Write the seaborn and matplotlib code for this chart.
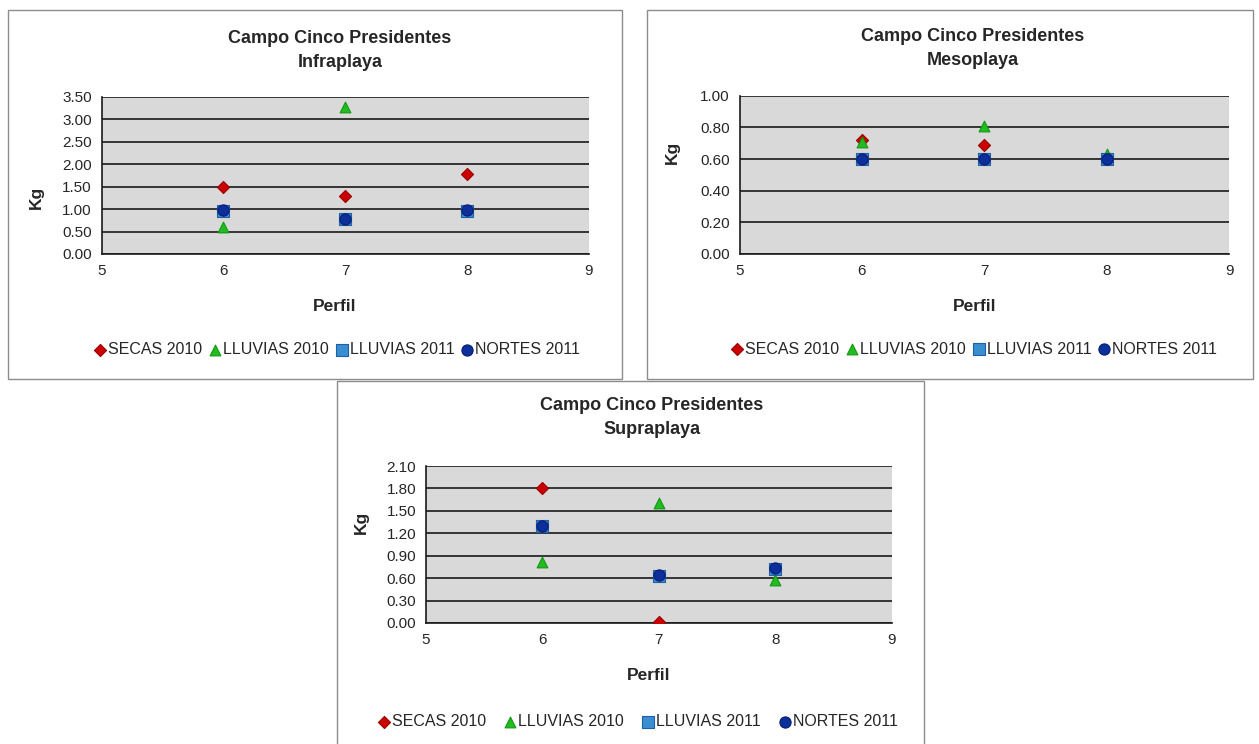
import numpy as np
import pandas as pd
import matplotlib
matplotlib.use('Agg')
import matplotlib.pyplot as plt
from matplotlib.patches import Rectangle
import seaborn as sns

# data (NaN = point hidden behind others)
perfil = [6, 7, 8]
series = ['SECAS 2010', 'LLUVIAS 2010', 'LLUVIAS 2011', 'NORTES 2011']

infra_secas = [1.48, 1.30, 1.78]
infra_lluvias10 = [0.60, 3.27, np.nan]
infra_lluvias11 = [0.96, 0.77, 0.95]
infra_nortes = [0.97, 0.78, 0.97]

meso_secas = [0.72, 0.69, np.nan]
meso_lluvias10 = [0.71, 0.81, 0.63]
meso_lluvias11 = [0.60, 0.60, 0.60]
meso_nortes = [0.60, 0.60, 0.60]

supra_secas = [1.80, 0.01, np.nan]
supra_lluvias10 = [0.81, 1.61, 0.58]
supra_lluvias11 = [1.30, 0.63, 0.72]
supra_nortes = [1.30, 0.64, 0.73]

W, H = 1259, 744
sns.set_style('white')
plt.rcParams['font.family'] = ['Liberation Sans', 'DejaVu Sans']
tick_font = ['Liberation Sans Narrow', 'Liberation Sans', 'DejaVu Sans']

palette = {'SECAS 2010': '#cc0000', 'LLUVIAS 2010': '#22bb22',
           'LLUVIAS 2011': '#3a8fd0', 'NORTES 2011': '#0c2f9c'}
markers = {'SECAS 2010': 'D', 'LLUVIAS 2010': '^',
           'LLUVIAS 2011': 's', 'NORTES 2011': 'o'}
sizes = {'SECAS 2010': 38, 'LLUVIAS 2010': 60,
         'LLUVIAS 2011': 75, 'NORTES 2011': 65}
edges = {'SECAS 2010': '#990000', 'LLUVIAS 2010': '#119911',
         'LLUVIAS 2011': '#1f5fa8', 'NORTES 2011': '#061d70'}


def frame(df_vals):
    rows = []
    for name, vals in zip(series, df_vals):
        for p, v in zip(perfil, vals):
            rows.append({'Perfil': p, 'Kg': v, 'Serie': name})
    return pd.DataFrame(rows)


fig = plt.figure(figsize=(W / 100, H / 100), dpi=100)


def px_axes(left, right, top, bottom):
    return fig.add_axes([left / W, 1 - bottom / H, (right - left) / W, (bottom - top) / H])


def box(left, right, top, bottom):
    fig.patches.append(Rectangle((left / W, 1 - bottom / H), (right - left) / W, (bottom - top) / H,
                                 transform=fig.transFigure, fill=False, edgecolor='#8c8c8c', lw=1))


def panel(ax, data, name, ymax, ystep, tcx, tcy, kgx, kgy, pfx, pfy, lgx, lgy, colsp):
    df = frame(data)
    for s in series:
        sub = df[df['Serie'] == s]
        sns.scatterplot(data=sub, x='Perfil', y='Kg', ax=ax, color=palette[s], marker=markers[s],
                        s=sizes[s], edgecolor=edges[s], linewidth=0.8, label=s, zorder=3)
    ax.set_facecolor('#d9d9d9')
    ax.set_xlim(5, 9)
    ax.set_ylim(0, ymax)
    ax.set_xticks([5, 6, 7, 8, 9])
    yt = np.arange(0, ymax + ystep / 2, ystep)
    ax.set_yticks(yt)
    ax.set_yticklabels([f'{v:.2f}' for v in yt], family=tick_font, fontsize=11)
    ax.set_xticklabels(['5', '6', '7', '8', '9'], family=tick_font, fontsize=11)
    ax.grid(axis='y', color='#1a1a1a', lw=1.2, zorder=1)
    ax.set_axisbelow(True)
    for sp in ['top', 'right']:
        ax.spines[sp].set_visible(False)
    for sp in ['left', 'bottom']:
        ax.spines[sp].set_color('#1a1a1a')
        ax.spines[sp].set_linewidth(1.2)
    ax.tick_params(axis='both', direction='out', length=4, width=1, color='#1a1a1a', pad=3)
    ax.set_xlabel('')
    ax.set_ylabel('')
    fig.text(tcx / W, 1 - tcy / H, 'Campo Cinco Presidentes\n' + name, ha='center', va='center',
             fontsize=13, fontweight='bold', linespacing=1.5)
    fig.text(kgx / W, 1 - kgy / H, 'Kg', rotation=90, ha='center', va='center',
             fontsize=12.5, fontweight='bold')
    fig.text(pfx / W, 1 - pfy / H, 'Perfil', ha='center', va='center',
             fontsize=12.5, fontweight='bold')
    h, l = ax.get_legend_handles_labels()
    ax.legend(h, l, ncol=4, loc='center', bbox_to_anchor=(lgx / W, 1 - lgy / H),
              bbox_transform=fig.transFigure, frameon=False, fontsize=11.5,
              handletextpad=0.0, columnspacing=colsp, handlelength=1.0, borderpad=0)


ax1 = px_axes(101.6, 589, 96.7, 254)
panel(ax1, [infra_secas, infra_lluvias10, infra_lluvias11, infra_nortes], 'Infraplaya',
      3.5, 0.5, 340, 50.5, 36, 197, 335, 306, 336, 350, 0.3)
box(8, 622, 10, 379)

ax2 = px_axes(739.6, 1229, 95.7, 254)
panel(ax2, [meso_secas, meso_lluvias10, meso_lluvias11, meso_nortes], 'Mesoplaya',
      1.0, 0.2, 973, 48.5, 672, 152, 975, 306, 973, 349, 0.3)
box(647, 1253, 10, 379)

ax3 = px_axes(425.8, 892, 466, 623)
panel(ax3, [supra_secas, supra_lluvias10, supra_lluvias11, supra_nortes], 'Supraplaya',
      2.1, 0.3, 652, 417.5, 361, 522, 649, 675, 637, 722, 1.0)
box(336.5, 924, 381.5, 760)

fig.savefig('out.png', dpi=100)
